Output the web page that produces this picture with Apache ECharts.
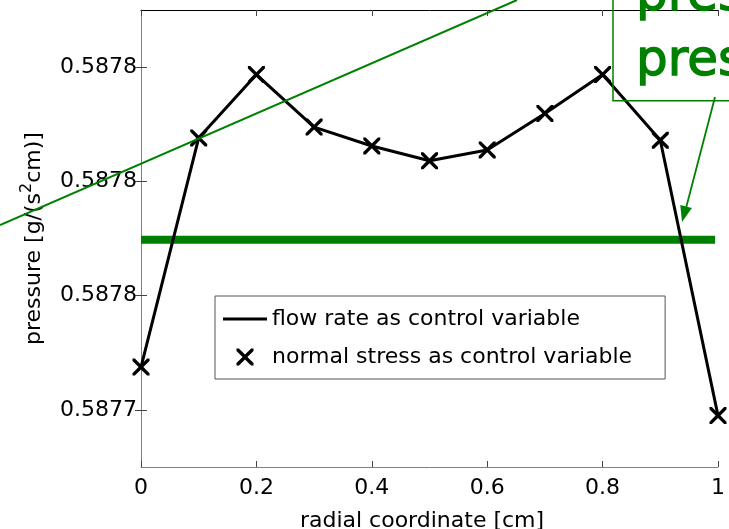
<!DOCTYPE html>
<html><head><meta charset="utf-8">
<script src="https://cdn.jsdelivr.net/npm/echarts@6/dist/echarts.min.js"></script>
<style>html,body{margin:0;padding:0;background:#fff}#c{width:729px;height:529px}</style>
</head><body><div id="c"></div>
<script>
// ---- data ----
const radius = [0, 0.1, 0.2, 0.3, 0.4, 0.5, 0.6, 0.7, 0.8, 0.9, 1.0];
const flowRate = [0.5877475, 0.5877876, 0.5877987, 0.5877895, 0.5877862, 0.5877836, 0.5877855, 0.5877919, 0.5877987, 0.5877872, 0.5877390];
const normalStress = [0.5877475, 0.5877876, 0.5877987, 0.5877895, 0.5877862, 0.5877836, 0.5877855, 0.5877919, 0.5877987, 0.5877872, 0.5877390];
const refRadius = [0, 0.995];
const refPressure = [0.5877698, 0.5877698];
const yTicks = [0.58774, 0.58776, 0.58778, 0.58780];
const seriesNames = ['flow rate as control variable', 'normal stress as control variable'];

const FONT = 'DejaVu Sans';
const GREEN = '#008000';
const XPATH = 'path://M0,0 L2.8,0 L10,7.2 L17.2,0 L20,0 L20,2.8 L12.8,10 L20,17.2 L20,20 L17.2,20 L10,12.8 L2.8,20 L0,20 L0,17.2 L7.2,10 L0,2.8 Z';

const chart = echarts.init(document.getElementById('c'), null, {renderer: 'canvas'});

const axisGray = '#808080';
const yMin = 0.58773, yMax = 0.58781;

const option = {
  backgroundColor: '#fff',
  animation: false,
  grid: {left: 141, right: 11, top: 10, bottom: 62, containLabel: false, outerBoundsMode: 'none'},
  legend: {
    left: 215, top: 296, orient: 'vertical',
    data: [
      {name: seriesNames[0], icon: 'path://M0,0 H44 V3 H0 Z'},
      {name: seriesNames[1], icon: XPATH}
    ],
    itemWidth: 44, itemHeight: 17, itemGap: 16,
    padding: [12, 33, 11, 8],
    borderColor: '#555', borderWidth: 1, borderRadius: 0,
    backgroundColor: '#fff',
    textStyle: {fontFamily: FONT, fontSize: 22, color: '#000'},
    selectedMode: false
  },
  xAxis: [{
    type: 'value', min: 0, max: 1, interval: 0.2, position: 'bottom',
    name: 'radial coordinate [cm]', nameLocation: 'middle', nameGap: 43,
    nameTextStyle: {fontFamily: FONT, fontSize: 22, color: '#000', padding: [0, 15, 0, 0]},
    axisLine: {lineStyle: {color: axisGray, width: 1}},
    axisTick: {inside: true, length: 6, lineStyle: {color: '#444'}},
    axisLabel: {fontFamily: FONT, fontSize: 22, color: '#000', margin: 10,
      formatter: v => String(+v.toFixed(1))},
    splitLine: {show: false}
  }, {
    type: 'value', min: 0, max: 1, interval: 0.2, position: 'top',
    axisLine: {lineStyle: {color: '#000', width: 1}},
    axisTick: {inside: true, length: 6, lineStyle: {color: '#444'}},
    axisLabel: {show: false},
    splitLine: {show: false}
  }],
  yAxis: [{
    type: 'value', min: yMin, max: yMax, position: 'left',
    name: 'pressure [g/(s{sup|2}cm)]', nameLocation: 'middle', nameGap: 90, nameRotate: 90,
    nameTextStyle: {fontFamily: FONT, fontSize: 22, color: '#000', lineHeight: 30,
      rich: {sup: {fontFamily: FONT, fontSize: 16, color: '#000', verticalAlign: 'top', lineHeight: 16}}},
    axisLine: {show: true, lineStyle: {color: axisGray, width: 1}},
    axisTick: {show: true, inside: true, length: 6, customValues: yTicks, lineStyle: {color: '#444'}},
    axisLabel: {fontFamily: FONT, fontSize: 22, color: '#000', margin: 4,
      customValues: yTicks, formatter: v => v.toFixed(4)},
    splitLine: {show: false}
  }, {
    type: 'value', min: yMin, max: yMax, position: 'right',
    axisLine: {show: true, lineStyle: {color: axisGray, width: 1}},
    axisTick: {show: true, inside: true, length: 6, customValues: yTicks, lineStyle: {color: '#444'}},
    axisLabel: {show: false, customValues: yTicks},
    splitLine: {show: false}
  }],
  series: [
    {
      name: 'reference', type: 'line', z: 1,
      data: refRadius.map((x, i) => [x, refPressure[i]]),
      showSymbol: false, symbol: 'none',
      lineStyle: {color: GREEN, width: 8, cap: 'butt'},
      itemStyle: {color: GREEN},
      silent: true
    },
    {
      name: seriesNames[0], type: 'line', z: 3,
      data: radius.map((x, i) => [x, flowRate[i]]),
      showSymbol: false, symbol: 'none',
      lineStyle: {color: '#000', width: 3},
      itemStyle: {color: '#000'},
      clip: false
    },
    {
      name: seriesNames[1], type: 'scatter', z: 4,
      data: radius.map((x, i) => [x, normalStress[i]]),
      symbol: XPATH, symbolSize: 17,
      itemStyle: {color: '#000', opacity: 1},
      clip: false
    }
  ],
  graphic: [
    {type: 'line', z: 100, shape: {x1: 0, y1: 225, x2: 517, y2: 0},
      style: {stroke: GREEN, lineWidth: 2}},
    {type: 'rect', z: 100, shape: {x: 613, y: -5, width: 200, height: 105.7},
      style: {fill: 'none', stroke: GREEN, lineWidth: 1.5}},
    {type: 'text', z: 101, x: 636, y: -2.5,
      style: {text: 'pres', fill: GREEN, stroke: GREEN, lineWidth: 1.3, fontFamily: 'DejaVu Sans', fontSize: 50, verticalAlign: 'middle', align: 'left'}},
    {type: 'text', z: 101, x: 636, y: 62.5,
      style: {text: 'pres', fill: GREEN, stroke: GREEN, lineWidth: 1.3, fontFamily: 'DejaVu Sans', fontSize: 50, verticalAlign: 'middle', align: 'left'}},
    {type: 'line', z: 100, shape: {x1: 715, y1: 97, x2: 685.5, y2: 210},
      style: {stroke: GREEN, lineWidth: 1.8}},
    {type: 'polygon', z: 100, shape: {points: [[682, 222], [691.9, 208.0], [680.3, 205.0]]},
      style: {fill: GREEN}}
  ]
};
chart.setOption(option);
</script>
</body></html>
